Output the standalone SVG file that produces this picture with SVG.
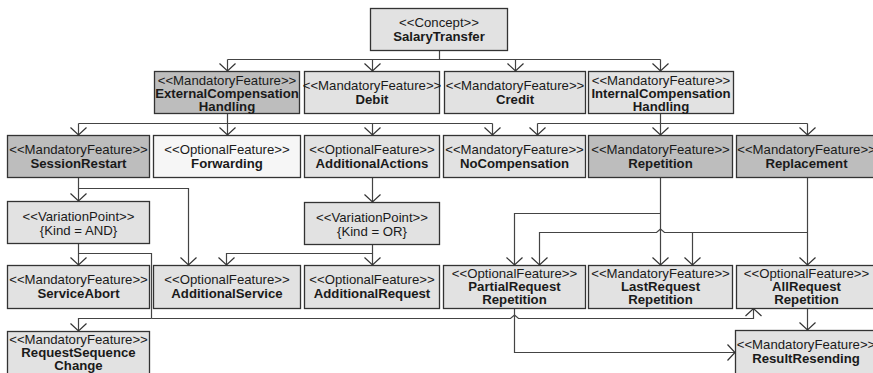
<svg xmlns="http://www.w3.org/2000/svg" width="873" height="373" viewBox="0 0 873 373">
  <defs>
    <style>
      .box { stroke: #333; stroke-width: 1.3; }
      .light { fill: #e2e2e2; }
      .dark { fill: #bdbdbd; }
      .pale { fill: #f6f6f6; }
      text { font-family: "Liberation Sans", Arial, sans-serif; font-size: 13.2px; fill: #1a1a1a; text-anchor: middle; }
      .nm { font-weight: bold; }
      #connectors path { fill: none; stroke: #444; stroke-width: 1.2; }
      #connectors path.arr { marker-end: url(#open); }
    </style>
    <marker id="open" markerUnits="userSpaceOnUse" markerWidth="20" markerHeight="20" viewBox="-10 -10 20 20" refX="0" refY="0" orient="auto" overflow="visible">
      <path d="M-7.5,-8 L0,0 L-7.5,8" fill="none" stroke="#333" stroke-width="1.2"/>
    </marker>
  </defs>

  <rect width="873" height="373" fill="#ffffff"/>

  <g id="connectors">
    <!-- SalaryTransfer to first level -->
    <path d="M439.5,50.5 V59.5 M227.5,59.5 H660.5"/>
    <path class="arr" d="M227.5,59.5 V71"/>
    <path class="arr" d="M372.5,59.5 V71"/>
    <path class="arr" d="M515.5,59.5 V71"/>
    <path class="arr" d="M660.5,59.5 V71"/>
    <!-- ExternalCompensationHandling -->
    <path d="M227.5,113 V123.5 M78.5,123.5 H492.5"/>
    <path class="arr" d="M78.5,123.5 V135"/>
    <path class="arr" d="M227.5,123.5 V135"/>
    <path class="arr" d="M372.5,123.5 V135"/>
    <path class="arr" d="M492.5,123.5 V135"/>
    <!-- InternalCompensationHandling -->
    <path d="M660.5,113 V123.5 M537.5,123.5 H807.5"/>
    <path class="arr" d="M537.5,123.5 V135"/>
    <path class="arr" d="M660.5,123.5 V135"/>
    <path class="arr" d="M807.5,123.5 V135"/>
    <!-- SessionRestart -->
    <path class="arr" d="M78.5,177 V201"/>
    <path class="arr" d="M78.5,188.5 H188.5 V265"/>
    <!-- AdditionalActions -->
    <path class="arr" d="M372.5,177 V202"/>
    <!-- VariationPoint OR -->
    <path class="arr" d="M372.5,244.5 V253.5 H226.5 V265"/>
    <path class="arr" d="M372.5,253.5 V265"/>
    <!-- VariationPoint AND -->
    <path class="arr" d="M78.5,243.5 V265"/>
    <path d="M78.5,253.5 H151.5 V318.5"/>
    <path class="arr" d="M151.5,318.5 H78.5 V331"/>
    <path class="arr" d="M151.5,318.5 H510.5 L514.5,315 L518.5,318.5 H753.5 V308.5"/>
    <!-- Repetition -->
    <path class="arr" d="M660.5,177 V265"/>
    <path class="arr" d="M660.5,213.5 H514.5 V265"/>
    <!-- Replacement -->
    <path class="arr" d="M807.5,177 V265"/>
    <path class="arr" d="M807.5,232.5 H664.5 L660.5,229 L656.5,232.5 H539.5 V265"/>
    <path class="arr" d="M692.5,232.5 V265"/>
    <!-- Repetition variants to ResultResending -->
    <path class="arr" d="M514.5,308.5 V352.5 H735"/>
    <path class="arr" d="M807.5,308.5 V330"/>
  </g>

  <g id="salaryTransfer">
    <rect class="box light" x="370.5" y="8.5" width="137" height="42"/>
    <text x="439" y="27">&lt;&lt;Concept&gt;&gt;</text>
    <text class="nm" x="439" y="41">SalaryTransfer</text>
  </g>

  <g id="externalCompensationHandling">
    <rect class="box dark" x="154.5" y="71.5" width="145" height="42"/>
    <text x="227" y="85">&lt;&lt;MandatoryFeature&gt;&gt;</text>
    <text class="nm" x="227" y="98">ExternalCompensation</text>
    <text class="nm" x="227" y="111">Handling</text>
  </g>

  <g id="debit">
    <rect class="box light" x="304.5" y="71.5" width="135" height="42"/>
    <text x="372" y="90">&lt;&lt;MandatoryFeature&gt;&gt;</text>
    <text class="nm" x="372" y="104">Debit</text>
  </g>

  <g id="credit">
    <rect class="box light" x="444.5" y="71.5" width="141" height="42"/>
    <text x="515" y="90">&lt;&lt;MandatoryFeature&gt;&gt;</text>
    <text class="nm" x="515" y="104">Credit</text>
  </g>

  <g id="internalCompensationHandling">
    <rect class="box light" x="588.5" y="71.5" width="145" height="42"/>
    <text x="661" y="85">&lt;&lt;MandatoryFeature&gt;&gt;</text>
    <text class="nm" x="661" y="98">InternalCompensation</text>
    <text class="nm" x="661" y="111">Handling</text>
  </g>

  <g id="sessionRestart">
    <rect class="box dark" x="7.5" y="135.5" width="142" height="42"/>
    <text x="78.5" y="154">&lt;&lt;MandatoryFeature&gt;&gt;</text>
    <text class="nm" x="78.5" y="168">SessionRestart</text>
  </g>

  <g id="forwarding">
    <rect class="box pale" x="153.5" y="135.5" width="147" height="42"/>
    <text x="227" y="154">&lt;&lt;OptionalFeature&gt;&gt;</text>
    <text class="nm" x="227" y="168">Forwarding</text>
  </g>

  <g id="additionalActions">
    <rect class="box light" x="304.5" y="135.5" width="135" height="42"/>
    <text x="372" y="154">&lt;&lt;OptionalFeature&gt;&gt;</text>
    <text class="nm" x="372" y="168">AdditionalActions</text>
  </g>

  <g id="noCompensation">
    <rect class="box light" x="443.5" y="135.5" width="142" height="42"/>
    <text x="514.5" y="154">&lt;&lt;MandatoryFeature&gt;&gt;</text>
    <text class="nm" x="514.5" y="168">NoCompensation</text>
  </g>

  <g id="repetition">
    <rect class="box dark" x="588.5" y="135.5" width="144" height="42"/>
    <text x="660.5" y="154">&lt;&lt;MandatoryFeature&gt;&gt;</text>
    <text class="nm" x="660.5" y="168">Repetition</text>
  </g>

  <g id="replacement">
    <rect class="box dark" x="736.5" y="135.5" width="140" height="42"/>
    <text x="806.5" y="154">&lt;&lt;MandatoryFeature&gt;&gt;</text>
    <text class="nm" x="806.5" y="168">Replacement</text>
  </g>

  <g id="variationPointAnd">
    <rect class="box light" x="7.5" y="201.5" width="142" height="42"/>
    <text x="78.5" y="220.5">&lt;&lt;VariationPoint&gt;&gt;</text>
    <text x="78.5" y="234.5">{Kind = AND}</text>
  </g>

  <g id="variationPointOr">
    <rect class="box light" x="304.5" y="202.5" width="135" height="42"/>
    <text x="372" y="221.5">&lt;&lt;VariationPoint&gt;&gt;</text>
    <text x="372" y="235.5">{Kind = OR}</text>
  </g>

  <g id="serviceAbort">
    <rect class="box light" x="7.5" y="265.5" width="142" height="43"/>
    <text x="78.5" y="284">&lt;&lt;MandatoryFeature&gt;&gt;</text>
    <text class="nm" x="78.5" y="298">ServiceAbort</text>
  </g>

  <g id="additionalService">
    <rect class="box light" x="153.5" y="265.5" width="147" height="43"/>
    <text x="227" y="284">&lt;&lt;OptionalFeature&gt;&gt;</text>
    <text class="nm" x="227" y="298">AdditionalService</text>
  </g>

  <g id="additionalRequest">
    <rect class="box light" x="304.5" y="265.5" width="135" height="43"/>
    <text x="372" y="284">&lt;&lt;OptionalFeature&gt;&gt;</text>
    <text class="nm" x="372" y="298">AdditionalRequest</text>
  </g>

  <g id="partialRequestRepetition">
    <rect class="box light" x="443.5" y="265.5" width="142" height="43"/>
    <text x="514.5" y="278">&lt;&lt;OptionalFeature&gt;&gt;</text>
    <text class="nm" x="514.5" y="291">PartialRequest</text>
    <text class="nm" x="514.5" y="304">Repetition</text>
  </g>

  <g id="lastRequestRepetition">
    <rect class="box light" x="588.5" y="265.5" width="144" height="43"/>
    <text x="660.5" y="278">&lt;&lt;MandatoryFeature&gt;&gt;</text>
    <text class="nm" x="660.5" y="291">LastRequest</text>
    <text class="nm" x="660.5" y="304">Repetition</text>
  </g>

  <g id="allRequestRepetition">
    <rect class="box light" x="736.5" y="265.5" width="140" height="43"/>
    <text x="806.5" y="278">&lt;&lt;OptionalFeature&gt;&gt;</text>
    <text class="nm" x="806.5" y="291">AllRequest</text>
    <text class="nm" x="806.5" y="304">Repetition</text>
  </g>

  <g id="requestSequenceChange">
    <rect class="box light" x="7.5" y="331.5" width="142" height="45"/>
    <text x="78.5" y="344">&lt;&lt;MandatoryFeature&gt;&gt;</text>
    <text class="nm" x="78.5" y="357">RequestSequence</text>
    <text class="nm" x="78.5" y="370">Change</text>
  </g>

  <g id="resultResending">
    <rect class="box light" x="735.5" y="330.5" width="141" height="45"/>
    <text x="806" y="349">&lt;&lt;MandatoryFeature&gt;&gt;</text>
    <text class="nm" x="806" y="363">ResultResending</text>
  </g>
</svg>
